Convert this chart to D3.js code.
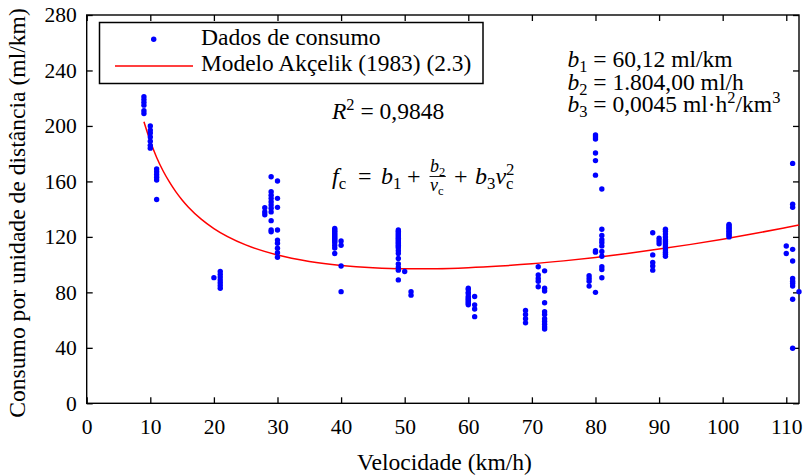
<!DOCTYPE html>
<html>
<head>
<meta charset="utf-8">
<script src="https://cdn.jsdelivr.net/npm/d3@7/dist/d3.min.js"></script>
<style>
  html, body { margin: 0; padding: 0; background: #fff; }
  svg { display: block; font-family: "Liberation Serif", "Times New Roman", serif; }
  svg text { white-space: pre; }
</style>
</head>
<body>
<svg id="chart" width="810" height="476"></svg>
<script>
// ---- Data ----
const xTicks = [0, 10, 20, 30, 40, 50, 60, 70, 80, 90, 100, 110];
const yTicks = [0, 40, 80, 120, 160, 200, 240, 280];

// speed (km/h) of each group of observations
const speedGroups = [9, 10, 11, 20, 21, 28, 29, 30, 39, 40, 49, 50, 51, 60, 61, 69, 71, 72, 79, 80, 81, 89, 90, 91, 101, 110, 111, 112];
// consumption (ml/km) observed at each speed
const consumoGroups = [
  [221, 219, 217, 215, 211, 209],
  [200, 197, 195, 192, 189, 186, 184],
  [169, 167, 165, 163, 161, 147],
  [90.6],
  [95, 93, 91, 89, 87, 85, 83],
  [141, 138, 136],
  [163.4, 152.6, 150, 147.8, 145.3, 143, 140.6, 138, 131.7, 125, 123.7],
  [160.3, 147.8, 141.3, 125, 117.7, 115.4, 111.8, 108.6, 105.3],
  [126, 125, 124, 123, 122, 121, 120, 119, 118, 117, 116, 114, 112, 108],
  [117, 114, 99, 80.5],
  [125, 124, 123, 122, 121, 120, 119, 118, 117, 116, 115, 114, 113, 112, 110, 108, 104.5, 100.4, 98, 96, 89],
  [95],
  [80.5, 78],
  [83, 82, 80, 79, 77, 76, 75, 74, 73, 72, 71],
  [77, 71, 68, 62.5],
  [67, 64, 61, 58],
  [98.5, 92.5, 90, 88, 84],
  [95.5, 83, 81, 72.5, 66, 64, 61, 59, 57, 55, 53.5],
  [92, 90, 88, 84.5],
  [193.5, 192, 190.5, 180.5, 175, 164.5, 110, 109, 80],
  [154.5, 125.5, 121, 118, 116, 113.5, 109.5, 106, 98.5, 96.5, 90.5],
  [123, 107, 101.5, 99, 96],
  [119, 117, 115],
  [125.5, 124, 122, 120, 118, 116.5, 115, 113.5, 112, 110.5, 109, 107.5, 106],
  [129, 128, 127, 126, 125, 124, 123, 122, 121, 120],
  [113.4, 108],
  [173, 143.5, 141.3, 111, 102.6, 90, 88, 86.5, 84.6, 75, 39.7],
  [80.5]
];

// fitted model curve
const curveSpeed   = [9, 10, 11, 12, 13, 14, 15, 16, 18, 20, 25, 30, 35, 40, 45, 50, 55, 60, 65, 70, 75, 80, 85, 90, 95, 100, 105, 110, 112];
const curveConsumo = [203, 188.9, 177.3, 167.7, 159.6, 152.6, 146.6, 141.4, 132.8, 126, 114.2, 106.9, 102.3, 99.4, 97.7, 97, 97.1, 97.8, 99, 100.6, 102.7, 105.2, 108, 111.2, 114.6, 118.3, 122.4, 126.8, 128.6];

// ---- Layout ----
const svg = d3.select("#chart");
const L = 86.7, R = 799, T = 15, B = 403.3;
const x = d3.scaleLinear().domain([0, 112]).range([L, R]);
const y = d3.scaleLinear().domain([0, 280]).range([B, T]);
const FONT = "Liberation Serif";

const tickLen = 6;
const axStyle = g => {
  g.attr("font-family", FONT);
  g.selectAll(".domain").remove();
  g.selectAll(".tick line").attr("stroke", "#000").attr("stroke-width", 1.3);
  g.selectAll(".tick text").attr("fill", "#000").attr("font-family", FONT).attr("font-size", 21.5);
};

svg.append("g").attr("transform", `translate(0,${B})`)
  .call(d3.axisBottom(x).tickValues(xTicks).tickSize(-tickLen).tickSizeOuter(0).tickPadding(15))
  .call(axStyle);
svg.append("g").attr("transform", `translate(0,${T})`)
  .call(d3.axisTop(x).tickValues(xTicks).tickSize(-tickLen).tickSizeOuter(0).tickFormat(""))
  .call(axStyle);
svg.append("g").attr("transform", `translate(${L},0)`)
  .call(d3.axisLeft(y).tickValues(yTicks).tickSize(-tickLen).tickSizeOuter(0).tickPadding(10))
  .call(axStyle);
svg.append("g").attr("transform", `translate(${R},0)`)
  .call(d3.axisRight(y).tickValues(yTicks).tickSize(-tickLen).tickSizeOuter(0).tickFormat(""))
  .call(axStyle);

// frame
svg.append("rect").attr("x", L).attr("y", T).attr("width", R - L).attr("height", B - T)
  .attr("fill", "none").attr("stroke", "#000").attr("stroke-width", 1.4);

// curve
const curvePts = curveSpeed.map((v, i) => [v, curveConsumo[i]]);
svg.append("path").datum(curvePts)
  .attr("fill", "none").attr("stroke", "#ff0000").attr("stroke-width", 1.5)
  .attr("d", d3.line().x(d => x(d[0])).y(d => y(d[1])).curve(d3.curveMonotoneX));

// points
const pts = [];
speedGroups.forEach((v, i) => consumoGroups[i].forEach(c => pts.push([v, c])));
svg.append("g").selectAll("circle").data(pts).join("circle")
  .attr("cx", d => x(d[0])).attr("cy", d => y(d[1])).attr("r", 2.7).attr("fill", "#0000ff");

// axis labels
svg.append("text").attr("x", 444.5).attr("y", 470).attr("text-anchor", "middle")
  .attr("font-family", FONT).attr("font-size", 23.6).text("Velocidade (km/h)");
svg.append("text").attr("transform", "translate(25,213) rotate(-90)").attr("text-anchor", "middle")
  .attr("font-family", FONT).attr("font-size", 23.6).text("Consumo por unidade de distância (ml/km)");

// legend
const lg = svg.append("g");
lg.append("rect").attr("x", 99.5).attr("y", 22.5).attr("width", 383.5).attr("height", 61)
  .attr("fill", "#fff").attr("stroke", "#000").attr("stroke-width", 1.5);
lg.append("circle").attr("cx", 153.7).attr("cy", 39.3).attr("r", 2.7).attr("fill", "#0000ff");
lg.append("line").attr("x1", 115).attr("x2", 193).attr("y1", 66).attr("y2", 66)
  .attr("stroke", "#ff0000").attr("stroke-width", 1.5);
lg.append("text").attr("x", 201).attr("y", 45).attr("font-family", FONT).attr("font-size", 23.6).text("Dados de consumo");
lg.append("text").attr("x", 201).attr("y", 70.5).attr("font-family", FONT).attr("font-size", 23.4).text("Modelo Akçelik (1983) (2.3)");

// rich text helper
function rich(px, py, size, parts) {
  const t = svg.append("text").attr("x", px).attr("y", py).attr("font-size", size).attr("font-family", FONT);
  parts.forEach(p => {
    const s = t.append("tspan").text(p.t);
    if (p.i) s.attr("font-style", "italic");
    if (p.sub) { s.attr("font-size", size * 0.7).attr("y", py + size * 0.22); }
    else if (p.sup) { s.attr("font-size", size * 0.7).attr("y", py - size * 0.38); }
    else s.attr("y", py);
    if (p.dx) s.attr("dx", p.dx);
  });
  return t;
}
const SP = "\u00a0";

rich(567.5, 67, 23.5, [{t: "b", i: 1}, {t: "1", sub: 1}, {t: SP + "=" + SP + "60,12 ml/km"}]);
rich(567.5, 89.5, 23.5, [{t: "b", i: 1}, {t: "2", sub: 1}, {t: SP + "=" + SP + "1.804,00 ml/h"}]);
rich(567.5, 112, 23.5, [{t: "b", i: 1}, {t: "3", sub: 1}, {t: SP + "=" + SP + "0,0045 ml·h"}, {t: "2", sup: 1}, {t: "/km"}, {t: "3", sup: 1}]);

rich(332, 119, 23.5, [{t: "R", i: 1}, {t: "2", sup: 1}, {t: SP + "=" + SP + "0,9848"}]);

// formula  f_c = b_1 + b_2/v_c + b_3 v_c^2
const fs = 24;
const fy = 184;
rich(332, fy, fs, [{t: "f", i: 1}, {t: "c", sub: 1}]);
rich(358, fy, fs, [{t: "="}]);
rich(381, fy, fs, [{t: "b", i: 1}, {t: "1", sub: 1}]);
rich(407, fy, fs, [{t: "+"}]);
const num = rich(430, 172, 18, [{t: "b", i: 1}, {t: "2", sub: 1}]);
rich(430, 191, 18, [{t: "v", i: 1}, {t: "c", sub: 1}]);
const fw = num.node().getComputedTextLength();
svg.append("line").attr("x1", 429.5).attr("x2", 430.5 + fw).attr("y1", 176.5).attr("y2", 176.5)
  .attr("stroke", "#000").attr("stroke-width", 0.9);
rich(454, fy, fs, [{t: "+"}]);
rich(475, fy, fs, [{t: "b", i: 1}, {t: "3", sub: 1}, {t: "v", i: 1}, {t: "c", sub: 1}, {t: "2", sup: 1, dx: -7.5}]);
</script>
</body>
</html>
